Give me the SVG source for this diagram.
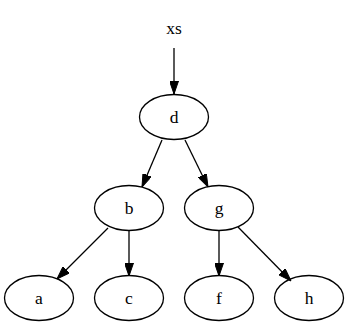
<svg xmlns="http://www.w3.org/2000/svg" width="348" height="326" viewBox="0 0 348 326">
<style>
.node ellipse{fill:none;stroke:#000;stroke-width:1.3}
text{font-family:"Liberation Serif","Times New Roman",serif;font-size:17.5px;text-anchor:middle;fill:#000}
.edge{stroke:#000;stroke-width:1.3;fill:none;marker-end:url(#arr)}
</style>
<defs>
<marker id="arr" markerUnits="userSpaceOnUse" viewBox="0 0 13 9" refX="13" refY="4.5" markerWidth="13" markerHeight="9" orient="auto">
<path d="M0,0 L13,4.5 L0,9 Z" fill="#000" stroke="#000" stroke-width="1"/>
</marker>
</defs>
<rect width="348" height="326" fill="#fff"/>
<g id="edges">
<path class="edge" d="M174,48 L174,94"/>
<path class="edge" d="M162,140 L142,187"/>
<path class="edge" d="M185,140 L208,187"/>
<path class="edge" d="M108,228 L57,279"/>
<path class="edge" d="M129,231 L129,276"/>
<path class="edge" d="M219,231 L219,276"/>
<path class="edge" d="M238,227 L291,281"/>
</g>
<g id="xs"><text x="174" y="34">xs</text></g>
<g id="d" class="node"><ellipse cx="174" cy="117" rx="34.5" ry="22.5"/><text x="174" y="123">d</text></g>
<g id="b" class="node"><ellipse cx="129" cy="208" rx="34.5" ry="22.5"/><text x="129" y="214">b</text></g>
<g id="g" class="node"><ellipse cx="219" cy="208" rx="34.5" ry="22.5"/><text x="219" y="214">g</text></g>
<g id="a" class="node"><ellipse cx="39" cy="298" rx="34.5" ry="22.5"/><text x="39" y="304">a</text></g>
<g id="c" class="node"><ellipse cx="129" cy="298" rx="34.5" ry="22.5"/><text x="129" y="304">c</text></g>
<g id="f" class="node"><ellipse cx="219" cy="298" rx="34.5" ry="22.5"/><text x="219" y="304">f</text></g>
<g id="h" class="node"><ellipse cx="309" cy="298" rx="34.5" ry="22.5"/><text x="309" y="304">h</text></g>
</svg>
